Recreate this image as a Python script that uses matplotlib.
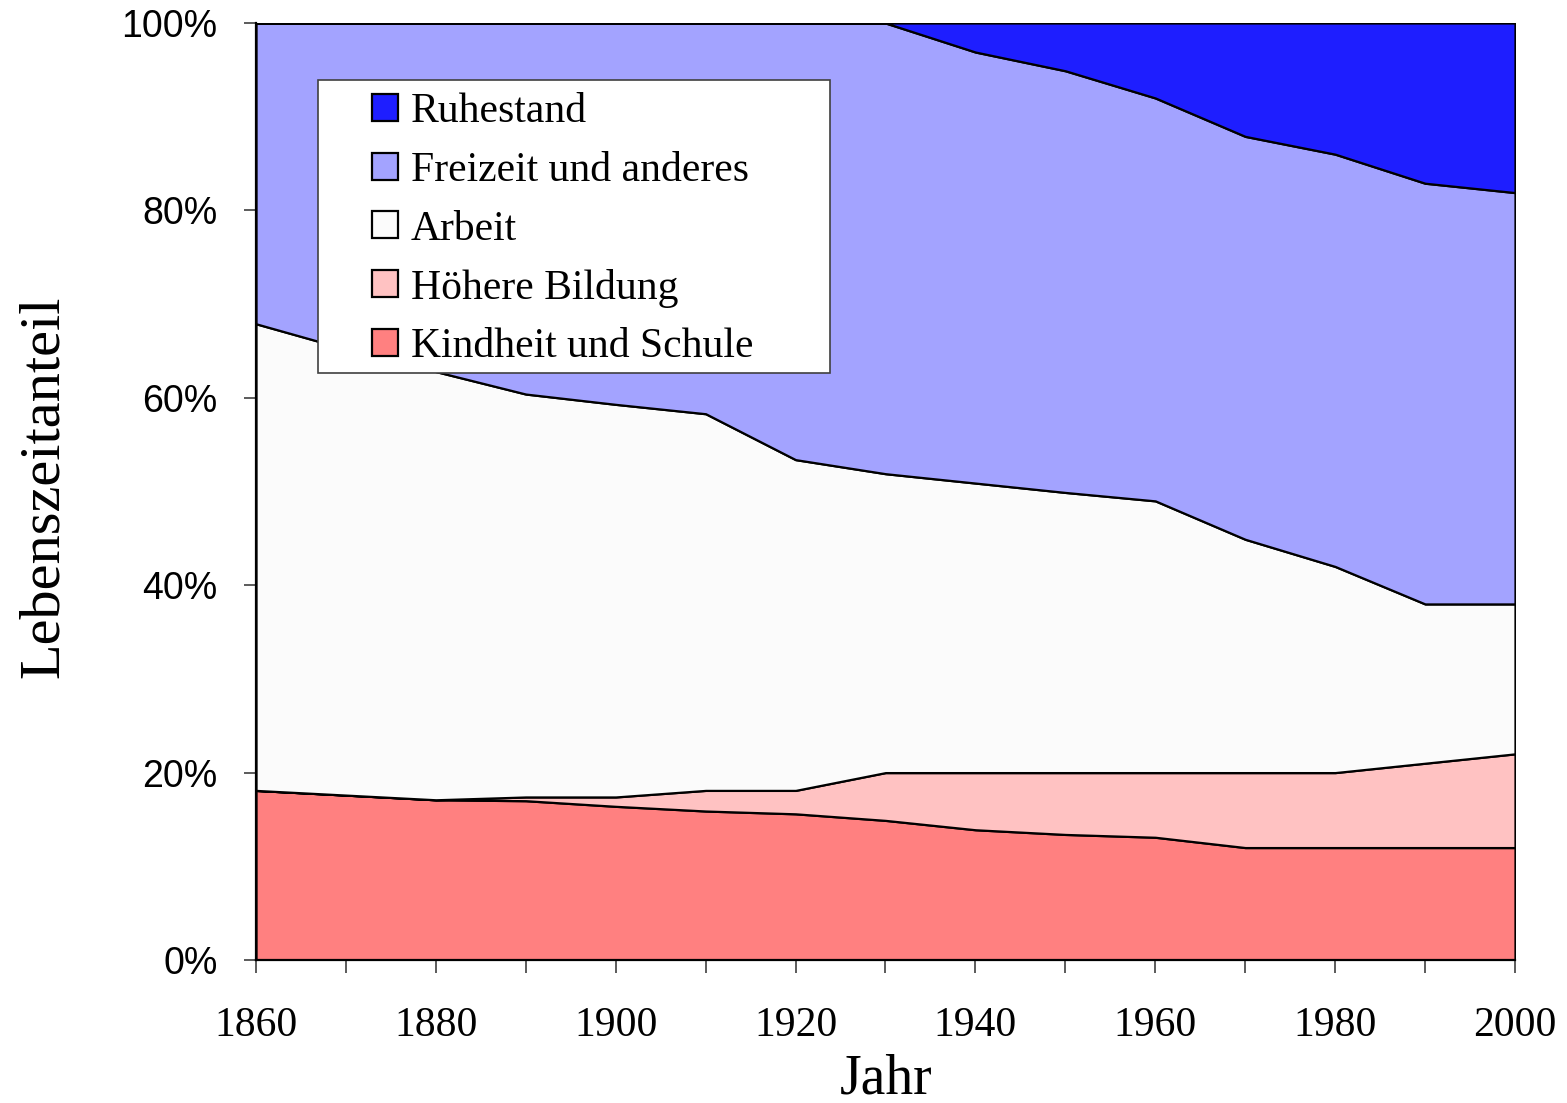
import matplotlib
matplotlib.use("Agg")
import matplotlib.pyplot as plt
from matplotlib.patches import Rectangle
from matplotlib.ticker import FixedLocator
import numpy as np

# ---- data (share of lifetime in %) ----
years = [1860, 1870, 1880, 1890, 1900, 1910, 1920, 1930, 1940, 1950, 1960, 1970, 1980, 1990, 2000]
kindheit = [18.1, 17.6, 17.1, 17.0, 16.4, 15.9, 15.6, 14.9, 13.9, 13.4, 13.1, 12.0, 12.0, 12.0, 12.0]
hoehere_bildung = [0.0, 0.0, 0.0, 0.4, 1.0, 2.2, 2.5, 5.1, 6.1, 6.6, 6.9, 8.0, 8.0, 9.0, 10.0]
arbeit = [49.8, 47.6, 45.7, 43.0, 41.9, 40.2, 35.3, 31.9, 30.9, 29.9, 29.0, 24.9, 22.0, 17.0, 16.0]
freizeit = [32.1, 34.8, 37.2, 39.6, 40.7, 41.7, 46.6, 48.1, 46.0, 45.0, 43.0, 43.0, 44.0, 44.9, 43.9]
ruhestand = [0.0, 0.0, 0.0, 0.0, 0.0, 0.0, 0.0, 0.0, 3.1, 5.1, 8.0, 12.1, 14.0, 17.1, 18.1]

labels = ["Kindheit und Schule", "Höhere Bildung", "Arbeit", "Freizeit und anderes", "Ruhestand"]
colors = ["#ff8080", "#ffc2c2", "#fbfbfb", "#a3a3ff", "#1e1eff"]

x_tick_labels = ["1860", "1880", "1900", "1920", "1940", "1960", "1980", "2000"]
y_tick_labels = ["0%", "20%", "40%", "60%", "80%", "100%"]

W, H = 1567, 1103
fig = plt.figure(figsize=(W / 100, H / 100), dpi=100)
ax = fig.add_axes([256 / W, 1 - 960 / H, (1515 - 256) / W, (960 - 23) / H])

polys = ax.stackplot(years, kindheit, hoehere_bildung, arbeit, freizeit, ruhestand,
                     colors=colors, edgecolor="black", linewidth=1.6, labels=labels)

ax.set_xlim(1860, 2000)
ax.set_ylim(0, 100)

ax.xaxis.set_major_locator(FixedLocator(years))
ax.set_xticklabels([str(y) if str(y) in x_tick_labels else "" for y in years],
                   fontfamily="Liberation Serif", fontsize=30)
ax.set_yticks([0, 20, 40, 60, 80, 100])
ax.set_yticklabels(y_tick_labels, fontfamily="Liberation Sans", fontsize=27)

ax.tick_params(axis="x", direction="out", length=9.5, width=1.2, color="#404040", pad=24)
ax.tick_params(axis="y", direction="out", length=8.6, width=1.2, color="#404040", pad=19)

for s in ["top", "right"]:
    ax.spines[s].set_visible(False)
for s in ["left", "bottom"]:
    ax.spines[s].set_color("black")
    ax.spines[s].set_linewidth(1.6)

# axis titles
fig.text(58 / W, 1 - 487 / H, "Lebenszeitanteil", rotation=90, rotation_mode="anchor",
         ha="center", va="baseline", fontfamily="Liberation Serif", fontsize=42)
fig.text(886 / W, 1 - 1093 / H, "Jahr", ha="center", va="baseline",
         fontfamily="Liberation Serif", fontsize=40)

# legend frame
ax.add_patch(Rectangle((318 / W, 1 - 373 / H), (830 - 318) / W, (373 - 80) / H,
                       transform=fig.transFigure, facecolor="white", edgecolor="#404040",
                       linewidth=1.2, zorder=5))
handles = list(polys)[::-1]
leg = ax.legend(handles, labels[::-1], loc="upper left",
                bbox_to_anchor=(372 / W, 1 - 93 / H), bbox_transform=fig.transFigure,
                frameon=False, prop={"family": "Liberation Serif", "size": 30},
                handlelength=0.63, handleheight=0.63, handletextpad=0.3,
                labelspacing=0.48, borderpad=0.0, borderaxespad=0.0)
leg.set_zorder(6)

fig.savefig("out.png", dpi=100)
